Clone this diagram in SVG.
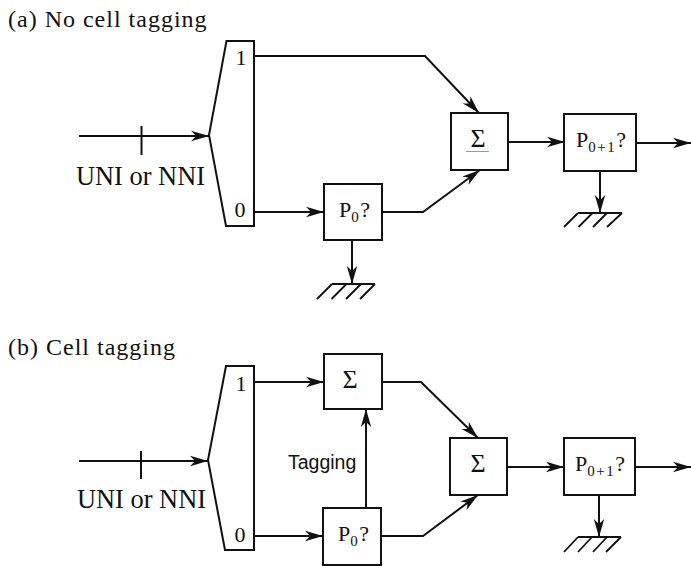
<svg xmlns="http://www.w3.org/2000/svg" width="691" height="566" viewBox="0 0 691 566">
<style>
.b{fill:#fff;stroke:#111;stroke-width:2}
.l{fill:none;stroke:#111;stroke-width:2}
.g{fill:none;stroke:#111;stroke-width:1.800}
.a{marker-end:url(#ah)}
text{font-family:"Liberation Serif",serif;fill:#111}
.t{font-size:24px;letter-spacing:1px}
.u{font-size:26.400px}
.n{font-size:22px;text-anchor:middle}
.p{font-size:22px}
.s{font-size:15px;letter-spacing:1.500px}
.h{font-family:"Liberation Sans",sans-serif;font-size:19.500px}
.m{font-size:26px;text-anchor:middle}
</style>
<defs>
<marker id="ah" markerUnits="userSpaceOnUse" markerWidth="20" markerHeight="14" refX="18" refY="7" orient="auto" overflow="visible">
<path d="M0 1.800L18 7L0 12.200L5 7Z" fill="#111"/>
</marker>
</defs>
<rect width="691" height="566" fill="#fff"/>
<g id="connectors">
<path class="l a" d="M79 136H209"/><path class="l" d="M141.500 126V155"/>
<path class="l a" d="M254 56H425L479 113"/>
<path class="l a" d="M254 212H324"/>
<path class="l a" d="M382 212H423L480 170"/>
<path class="l a" d="M352 240V284"/>
<path class="l a" d="M508 142H565"/>
<path class="l a" d="M636 143H691"/>
<path class="l a" d="M600 171V213"/>
<path class="l a" d="M79 461H208"/><path class="l" d="M141 451V479"/>
<path class="l a" d="M254 382H324"/>
<path class="l a" d="M254 536H323"/>
<path class="l a" d="M366 508V409"/>
<path class="l a" d="M382 382H421L478 438"/>
<path class="l a" d="M381 536H423L478 495"/>
<path class="l a" d="M507 467H564"/>
<path class="l a" d="M635 467H691"/>
<path class="l a" d="M599 495V537"/>
</g>
<g id="title-a"><text class="t" x="8" y="27">(a) No cell tagging</text></g>
<g id="demux-a"><path class="b" d="M226.500 41H254V226H226L209 135Z"/><text class="n" x="241" y="65">1</text><text class="n" x="240" y="217">0</text></g>
<g id="label-a"><text class="u" x="76" y="185">UNI or NNI</text></g>
<g id="p0-a"><rect class="b" x="324" y="184" width="58" height="56"/><text class="p" x="339" y="217">P<tspan class="s" dy="5">0</tspan><tspan dy="-5">?</tspan></text></g>
<g id="ground-a1"><path class="g" d="M332 284H375M332 284L317 299M346.500 284L331.500 299M361 284L346 299M375 284L360 299"/></g>
<g id="sum-a"><rect class="b" x="451" y="113" width="57" height="57"/><text class="m" x="478" y="147">Σ</text><path d="M466 151.500H489" stroke="#999" stroke-width="1"/></g>
<g id="p01-a"><rect class="b" x="564" y="114" width="72" height="57"/><text class="p" x="576" y="147">P<tspan class="s" dy="5">0+1</tspan><tspan dy="-5">?</tspan></text></g>
<g id="ground-a2"><path class="g" d="M578 213H622M578 213L564 227M592.500 213L578.500 227M607 213L593 227M622 213L607 227"/></g>
<g id="title-b"><text class="t" x="8" y="355">(b) Cell tagging</text></g>
<g id="demux-b"><path class="b" d="M226 366H254V550H225L208 460Z"/><text class="n" x="241" y="391">1</text><text class="n" x="240" y="542">0</text></g>
<g id="label-b"><text class="u" x="77" y="508">UNI or NNI</text></g>
<g id="sum-b1"><rect class="b" x="324" y="354" width="58" height="55"/><text class="m" x="350" y="388">Σ</text></g>
<g id="p0-b"><rect class="b" x="323" y="508" width="58" height="57"/><text class="p" x="338" y="541">P<tspan class="s" dy="5">0</tspan><tspan dy="-5">?</tspan></text></g>
<g id="tagging"><text class="h" x="288" y="469">Tagging</text></g>
<g id="sum-b2"><rect class="b" x="450" y="438" width="57" height="57"/><text class="m" x="478" y="472">Σ</text></g>
<g id="p01-b"><rect class="b" x="564" y="438" width="71" height="57"/><text class="p" x="575" y="471">P<tspan class="s" dy="5">0+1</tspan><tspan dy="-5">?</tspan></text></g>
<g id="ground-b"><path class="g" d="M578 537H621M578 537L564 552M592 537L578 552M607 537L593 552M621 537L606 552"/></g>
</svg>
